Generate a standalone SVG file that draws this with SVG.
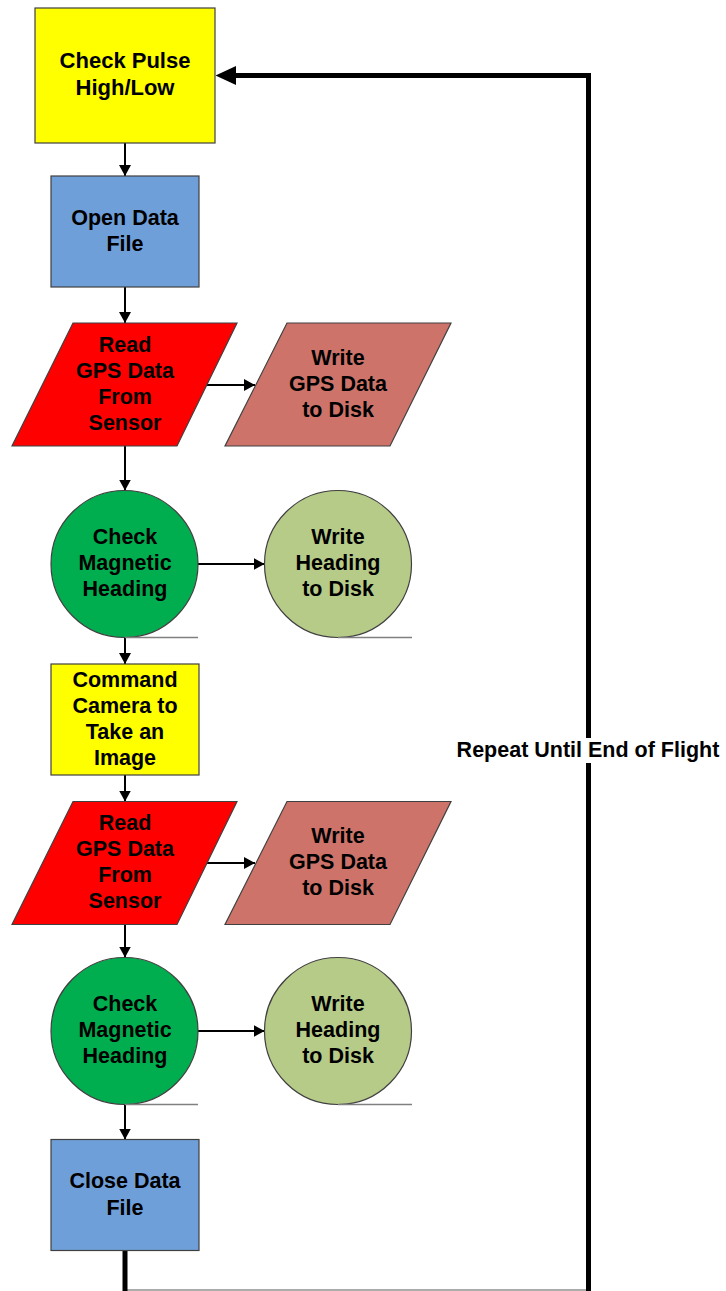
<svg xmlns="http://www.w3.org/2000/svg" width="726" height="1291" viewBox="0 0 726 1291">
<style>
  .t { font-family: "Liberation Sans", Arial, sans-serif; font-weight: bold; font-size: 21.5px; fill: #000; text-anchor: middle; }
  .node { stroke: #404040; stroke-width: 1.2; }
  .yellow { fill: #FFFF00; }
  .blue { fill: #6F9FD9; }
  .red { fill: #FF0000; }
  .pink { fill: #CD736A; }
  .green { fill: #00AE4F; }
  .lgreen { fill: #B7CB88; }
  .tail { stroke: #808080; stroke-width: 1.5; fill: none; }
  .conn { stroke: #000; stroke-width: 2; fill: none; marker-end: url(#ah); }
  .thick { stroke: #000; stroke-width: 5; fill: none; }
</style>
<defs>
  <marker id="ah" markerUnits="userSpaceOnUse" markerWidth="12" markerHeight="14" refX="11" refY="7" orient="auto" viewBox="0 0 12 14">
    <path d="M0,1 L11,7 L0,13 Z" fill="#000"/>
  </marker>
</defs>
<rect width="726" height="1291" fill="#fff"/>

<g id="connectors">
  <line class="conn" x1="125" y1="143" x2="125" y2="176"/>
  <line class="conn" x1="125" y1="287" x2="125" y2="323"/>
  <line class="conn" x1="207" y1="385" x2="255" y2="385"/>
  <line class="conn" x1="125" y1="446" x2="125" y2="490.5"/>
  <line class="conn" x1="198" y1="564" x2="264.5" y2="564"/>
  <line class="conn" x1="125" y1="637.5" x2="125" y2="664"/>
  <line class="conn" x1="125" y1="775" x2="125" y2="801.5"/>
  <line class="conn" x1="207" y1="863" x2="255" y2="863"/>
  <line class="conn" x1="125" y1="924.5" x2="125" y2="957.5"/>
  <line class="conn" x1="198" y1="1031" x2="264.5" y2="1031"/>
  <line class="conn" x1="125" y1="1104.5" x2="125" y2="1139.5"/>
  <line x1="127" y1="1290" x2="588" y2="1290" stroke="#909090" stroke-width="1.5"/>
  <path class="thick" d="M125,1248 V1293"/>
  <path class="thick" d="M588.5,1293 V75.5 H234"/>
  <polygon points="215.5,75.5 236,66 236,85" fill="#000"/>
  <rect x="452" y="738" width="272" height="25" fill="#fff"/>
  <text class="t" x="588" y="756.5">Repeat Until End of Flight</text>
</g>

<g id="check-pulse">
  <rect class="node yellow" x="35" y="8" width="180" height="135"/>
  <text class="t" x="125" y="67.5" style="font-size:22px">Check Pulse</text>
  <text class="t" x="125" y="94.5" style="font-size:22px">High/Low</text>
</g>

<g id="open-data-file">
  <rect class="node blue" x="51" y="176" width="148" height="111"/>
  <text class="t" x="125" y="224.5">Open Data</text>
  <text class="t" x="125" y="251">File</text>
</g>

<g id="read-gps-1">
  <polygon class="node red" points="73,323 237,323 177,446 12,446"/>
  <text class="t" x="125" y="351.5">Read</text>
  <text class="t" x="125" y="377.5">GPS Data</text>
  <text class="t" x="125" y="403.5">From</text>
  <text class="t" x="125" y="429.5">Sensor</text>
</g>

<g id="write-gps-1">
  <polygon class="node pink" points="287,323 451,323 390,446 225,446"/>
  <text class="t" x="338" y="364.5">Write</text>
  <text class="t" x="338" y="391">GPS Data</text>
  <text class="t" x="338" y="417">to Disk</text>
</g>

<g id="check-heading-1">
  <circle class="node green" cx="124.5" cy="564" r="73.5"/>
  <line class="tail" x1="125" y1="637.5" x2="198" y2="637.5"/>
  <text class="t" x="125" y="544">Check</text>
  <text class="t" x="125" y="570">Magnetic</text>
  <text class="t" x="125" y="596">Heading</text>
</g>

<g id="write-heading-1">
  <circle class="node lgreen" cx="338" cy="564" r="73.5"/>
  <line class="tail" x1="338" y1="637.5" x2="412" y2="637.5"/>
  <text class="t" x="338" y="544">Write</text>
  <text class="t" x="338" y="570">Heading</text>
  <text class="t" x="338" y="596">to Disk</text>
</g>

<g id="command-camera">
  <rect class="node yellow" x="51" y="664" width="148" height="111"/>
  <text class="t" x="125" y="687">Command</text>
  <text class="t" x="125" y="713">Camera to</text>
  <text class="t" x="125" y="739">Take an</text>
  <text class="t" x="125" y="765">Image</text>
</g>

<g id="read-gps-2">
  <polygon class="node red" points="73,801.5 237,801.5 177,924.5 12,924.5"/>
  <text class="t" x="125" y="830">Read</text>
  <text class="t" x="125" y="856">GPS Data</text>
  <text class="t" x="125" y="882">From</text>
  <text class="t" x="125" y="908">Sensor</text>
</g>

<g id="write-gps-2">
  <polygon class="node pink" points="287,801.5 451,801.5 390,924.5 225,924.5"/>
  <text class="t" x="338" y="843">Write</text>
  <text class="t" x="338" y="869">GPS Data</text>
  <text class="t" x="338" y="895">to Disk</text>
</g>

<g id="check-heading-2">
  <circle class="node green" cx="124.5" cy="1031" r="73.5"/>
  <line class="tail" x1="125" y1="1104.5" x2="198" y2="1104.5"/>
  <text class="t" x="125" y="1011">Check</text>
  <text class="t" x="125" y="1037">Magnetic</text>
  <text class="t" x="125" y="1063">Heading</text>
</g>

<g id="write-heading-2">
  <circle class="node lgreen" cx="338" cy="1031" r="73.5"/>
  <line class="tail" x1="338" y1="1104.5" x2="412" y2="1104.5"/>
  <text class="t" x="338" y="1011">Write</text>
  <text class="t" x="338" y="1037">Heading</text>
  <text class="t" x="338" y="1063">to Disk</text>
</g>

<g id="close-data-file">
  <rect class="node blue" x="51" y="1139.5" width="148" height="111"/>
  <text class="t" x="125" y="1187.5">Close Data</text>
  <text class="t" x="125" y="1214.5">File</text>
</g>
</svg>
